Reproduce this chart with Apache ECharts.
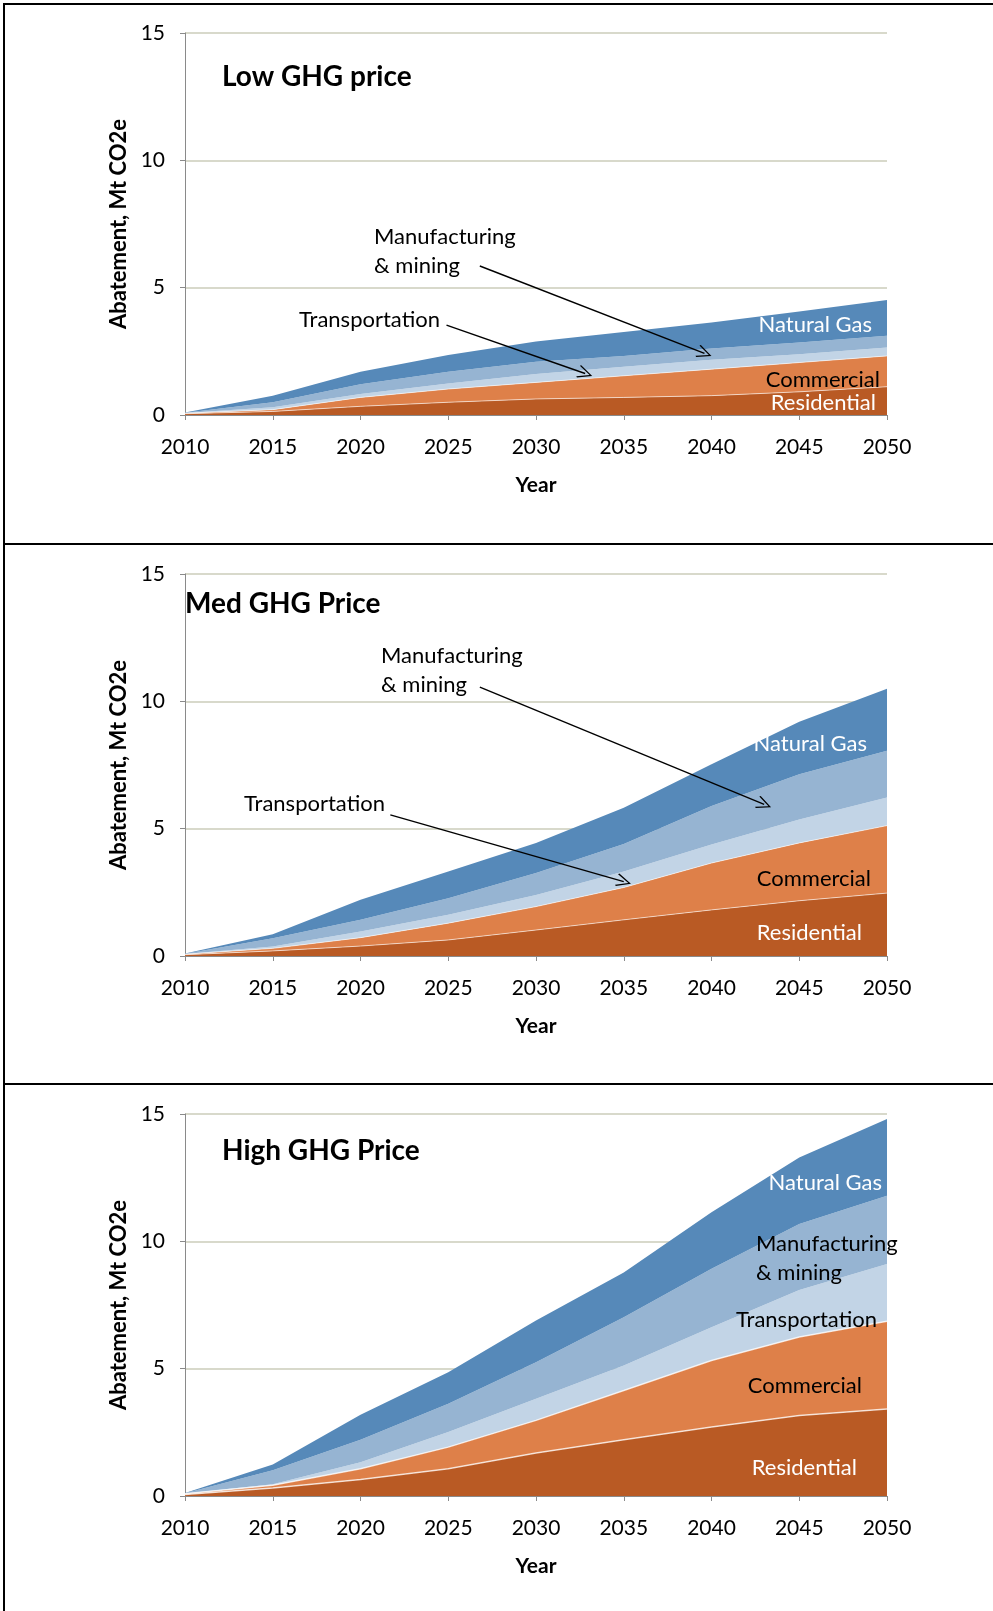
<!DOCTYPE html>
<html>
<head>
<meta charset="utf-8">
<script src="https://cdn.jsdelivr.net/npm/echarts@6/dist/echarts.min.js"></script>
<style>
  html, body { margin: 0; padding: 0; background: #fff; }
  #chart { width: 993px; height: 1611px; }
</style>
</head>
<body>
<div id="chart"></div>
<script>
// years on the x axis
const years = ['2010', '2015', '2020', '2025', '2030', '2035', '2040', '2045', '2050'];
const yTicks = [0, 5, 10, 15];

// Low GHG price, Mt CO2e abatement per sector (stacked)
const lowResidential = [0.05, 0.14, 0.34, 0.50, 0.63, 0.69, 0.76, 0.91, 1.11];
const lowCommercial = [0.02, 0.07, 0.35, 0.52, 0.65, 0.85, 1.04, 1.15, 1.21];
const lowTransport = [0.01, 0.09, 0.13, 0.22, 0.33, 0.35, 0.37, 0.33, 0.33];
const lowManufacturing = [0.01, 0.20, 0.39, 0.46, 0.48, 0.43, 0.44, 0.46, 0.46];
const lowNaturalGas = [0.01, 0.26, 0.49, 0.66, 0.80, 0.94, 1.02, 1.21, 1.41];

// Med GHG price
const medResidential = [0.05, 0.20, 0.39, 0.63, 1.02, 1.42, 1.81, 2.17, 2.47];
const medCommercial = [0.02, 0.10, 0.33, 0.66, 0.92, 1.27, 1.84, 2.27, 2.65];
const medTransport = [0.01, 0.07, 0.24, 0.33, 0.46, 0.63, 0.73, 0.92, 1.10];
const medManufacturing = [0.01, 0.33, 0.46, 0.65, 0.86, 1.08, 1.51, 1.78, 1.84];
const medNaturalGas = [0.01, 0.15, 0.79, 1.05, 1.18, 1.42, 1.64, 2.06, 2.43];

// High GHG price
const highResidential = [0.06, 0.31, 0.65, 1.07, 1.69, 2.21, 2.71, 3.16, 3.42];
const highCommercial = [0.03, 0.11, 0.42, 0.85, 1.28, 1.93, 2.61, 3.08, 3.44];
const highTransport = [0.01, 0.04, 0.26, 0.59, 0.85, 0.98, 1.31, 1.85, 2.25];
const highManufacturing = [0.01, 0.55, 0.88, 1.11, 1.43, 1.90, 2.29, 2.59, 2.68];
const highNaturalGas = [0.01, 0.23, 0.98, 1.24, 1.64, 1.76, 2.22, 2.61, 3.01];

const sectors = ['Residential', 'Commercial', 'Transportation', 'Manufacturing & mining', 'Natural Gas'];
const colors = ['#B95A24', '#DE8049', '#C2D4E6', '#96B4D2', '#5689B9'];

const panels = [
  { data: [lowResidential, lowCommercial, lowTransport, lowManufacturing, lowNaturalGas], top: 33 },
  { data: [medResidential, medCommercial, medTransport, medManufacturing, medNaturalGas], top: 574 },
  { data: [highResidential, highCommercial, highTransport, highManufacturing, highNaturalGas], top: 1114 },
];

// arrows pointing from labels into the thin bands (year, value)
const arrows = [
  [
    [[2026.8, 5.85], [2039.6, 2.42]],
    [[2024.9, 3.53], [2032.8, 1.63]],
  ],
  [
    [[2026.8, 10.56], [2043.0, 5.95]],
    [[2021.7, 5.54], [2035.0, 2.92]],
  ],
  [],
];

const FONT = 'Lato, "Open Sans", sans-serif';
const chevron = 'path://M0,0 L9,13 L7.6,14 L0,2.6 L-7.6,14 L-9,13 Z';

const chart = echarts.init(document.getElementById('chart'));

const grids = [], xAxes = [], yAxes = [], series = [];

panels.forEach((p, i) => {
  grids.push({ left: 185, width: 702, top: p.top, height: 382 });
  // category axis for the stacked areas
  xAxes.push({
    type: 'category',
    gridIndex: i,
    data: years,
    boundaryGap: false,
    name: 'Year',
    nameLocation: 'middle',
    nameGap: 60,
    nameTextStyle: { fontFamily: FONT, fontSize: 21, fontWeight: 'bold', color: '#000' },
    axisLine: { show: true, lineStyle: { color: '#8a8a8a', width: 1 } },
    axisTick: { show: true, length: 5, alignWithLabel: true, lineStyle: { color: '#8a8a8a' } },
    axisLabel: { margin: 22, fontFamily: FONT, fontSize: 21, color: '#000' },
    splitLine: { show: false },
  });
  yAxes.push({
    type: 'value',
    gridIndex: i,
    min: yTicks[0],
    max: yTicks[yTicks.length - 1],
    interval: 5,
    name: 'Abatement, Mt CO2e',
    nameLocation: 'middle',
    nameGap: 53,
    nameTextStyle: { fontFamily: FONT, fontSize: 22, fontWeight: 'bold', color: '#000' },
    axisLine: { show: true, lineStyle: { color: '#8a8a8a', width: 1 } },
    axisTick: { show: true, length: 5, lineStyle: { color: '#8a8a8a' } },
    axisLabel: { margin: 20, fontFamily: FONT, fontSize: 21, color: '#000' },
    splitLine: { show: true, lineStyle: { color: '#D8D9CB', width: 2 } },
  });

  p.data.forEach((vals, k) => {
    series.push({
      name: sectors[k],
      type: 'line',
      xAxisIndex: i,
      yAxisIndex: i,
      stack: 'total' + i,
      showSymbol: false,
      symbol: 'none',
      silent: true,
      data: vals,
      lineStyle: k < 2 ? { color: 'rgba(255,255,255,0.75)', width: i === 2 ? 1.5 : 0.8 } : { width: 0 },
      areaStyle: { color: colors[k], opacity: 1 },
      itemStyle: { color: colors[k] },
      z: 2,
    });
  });
});

// hidden value x axes over the same grids, used only to place arrows
panels.forEach((p, i) => {
  const xi = xAxes.length;
  xAxes.push({
    type: 'value',
    gridIndex: i,
    min: Number(years[0]),
    max: Number(years[years.length - 1]),
    show: false,
  });
  if (arrows[i].length) {
    series.push({
      type: 'line',
      xAxisIndex: xi,
      yAxisIndex: i,
      data: [],
      silent: true,
      markLine: {
        silent: true,
        symbol: ['none', chevron],
        symbolSize: [13, 15],
        label: { show: false },
        lineStyle: { color: '#000', width: 1.4, type: 'solid' },
        data: arrows[i].map(a => [{ coord: a[0] }, { coord: a[1] }]),
      },
      z: 5,
    });
  }
});

function txt(x, y, text, opts) {
  return {
    type: 'text',
    x: x,
    y: y,
    z: 10,
    style: Object.assign({
      text: text,
      fontFamily: FONT,
      fontSize: 22,
      fill: '#000',
      textAlign: 'left',
      textVerticalAlign: 'middle',
    }, opts || {}),
  };
}

const white = { fill: '#fff', textAlign: 'right' };
const blackR = { textAlign: 'right' };
const titleStyle = { fontSize: 28, fontWeight: 'bold' };

const graphic = [
  // frame lines
  { type: 'line', shape: { x1: 3, y1: 4, x2: 993, y2: 4 }, style: { stroke: '#000', lineWidth: 2 } },
  { type: 'line', shape: { x1: 4, y1: 4, x2: 4, y2: 1611 }, style: { stroke: '#000', lineWidth: 2 } },
  { type: 'line', shape: { x1: 4, y1: 544, x2: 993, y2: 544 }, style: { stroke: '#000', lineWidth: 2 } },
  { type: 'line', shape: { x1: 4, y1: 1084, x2: 993, y2: 1084 }, style: { stroke: '#000', lineWidth: 2 } },

  // panel 1
  txt(222, 77, 'Low GHG price', titleStyle),
  txt(374, 237, 'Manufacturing'),
  txt(374, 266, '& mining'),
  txt(299, 320, 'Transportation'),
  txt(872, 325, 'Natural Gas', white),
  txt(880, 380, 'Commercial', blackR),
  txt(876, 403, 'Residential', white),

  // panel 2
  txt(185, 604, 'Med GHG Price', titleStyle),
  txt(381, 656, 'Manufacturing'),
  txt(381, 685, '& mining'),
  txt(244, 804, 'Transportation'),
  txt(867, 744, 'Natural Gas', white),
  txt(871, 879, 'Commercial', blackR),
  txt(862, 933, 'Residential', white),

  // panel 3
  txt(222, 1151, 'High GHG Price', titleStyle),
  txt(882, 1183, 'Natural Gas', white),
  txt(756, 1244, 'Manufacturing'),
  txt(756, 1273, '& mining'),
  txt(736, 1320, 'Transportation'),
  txt(862, 1386, 'Commercial', blackR),
  txt(857, 1468, 'Residential', white),
];

chart.setOption({
  animation: false,
  backgroundColor: '#fff',
  grid: grids,
  xAxis: xAxes,
  yAxis: yAxes,
  series: series,
  graphic: graphic,
});
</script>
</body>
</html>
